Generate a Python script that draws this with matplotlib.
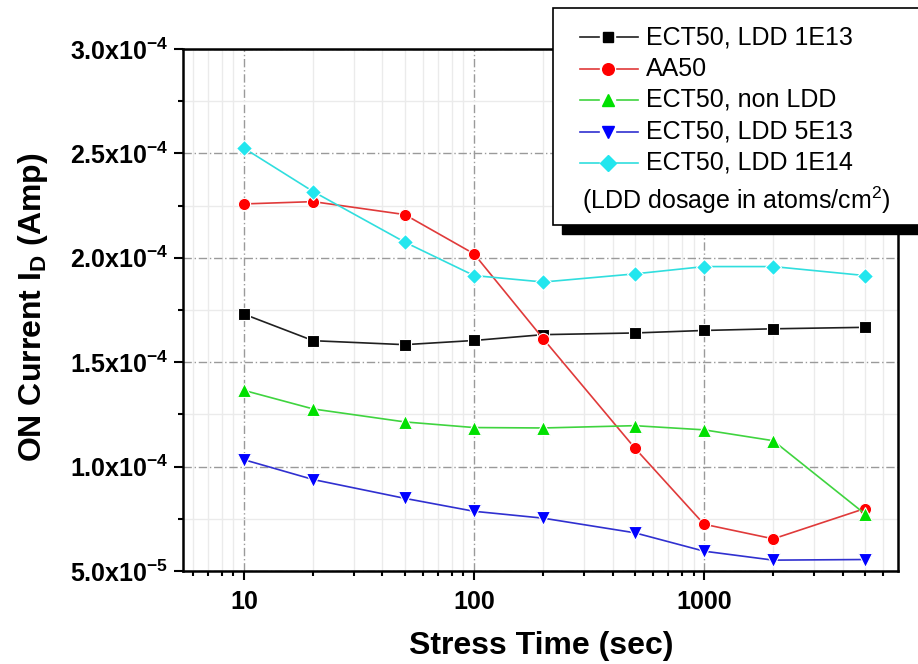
import matplotlib
matplotlib.use('Agg')
import matplotlib.pyplot as plt
from matplotlib.lines import Line2D
from matplotlib.patches import Rectangle
from matplotlib.ticker import FuncFormatter, MultipleLocator, LogLocator, FixedLocator

plt.rcParams['font.family'] = 'Liberation Sans'
plt.rcParams['mathtext.fontset'] = 'custom'
plt.rcParams['mathtext.rm'] = 'Liberation Sans'
plt.rcParams['mathtext.bf'] = 'Liberation Sans:bold'
plt.rcParams['mathtext.default'] = 'bf'

# stress times (sec) and ON current in units of 1e-4 A
stress_time = [10, 20, 50, 100, 200, 500, 1000, 2000, 5000]
ldd_1e13 = [1.73, 1.603, 1.584, 1.604, 1.632, 1.640, 1.652, 1.660, 1.667]
aa50 = [2.258, 2.269, 2.207, 2.019, 1.612, 1.089, 0.724, 0.654, 0.799]
non_ldd = [1.365, 1.276, 1.214, 1.187, 1.185, 1.196, 1.176, 1.124, 0.774]
ldd_5e13 = [1.033, 0.938, 0.848, 0.786, 0.753, 0.683, 0.595, 0.552, 0.555]
ldd_1e14 = [2.525, 2.317, 2.075, 1.915, 1.884, 1.923, 1.958, 1.958, 1.915]

labels = ['ECT50, LDD 1E13', 'AA50', 'ECT50, non LDD', 'ECT50, LDD 5E13', 'ECT50, LDD 1E14']
series = [ldd_1e13, aa50, non_ldd, ldd_5e13, ldd_1e14]
line_colors = ['#202020', '#e03a3a', '#3fd43f', '#3030d0', '#30dede']
mk_colors = ['#000000', '#ff0000', '#00e000', '#0000ff', '#22e6ee']
markers = ['s', 'o', '^', 'v', 'D']
msizes = [8, 8.8, 9.8, 9.8, 8.2]

W, H = 918, 664
fig = plt.figure(figsize=(W / 100, H / 100), dpi=100)
ax = fig.add_axes([183 / W, 1 - 571 / H, (898 - 183) / W, (571 - 49) / H])

for vals, c, mc, m, ms in zip(series, line_colors, mk_colors, markers, msizes):
    ax.plot(stress_time, [v * 1e-4 for v in vals], '-', color=c, linewidth=1.2,
            marker=m, markersize=ms, markerfacecolor=mc, markeredgecolor='white',
            markeredgewidth=0.8, zorder=3)

ax.set_xscale('log')
ax.set_xlim(5.43, 6970)
ax.set_ylim(5e-5, 3e-4)

ax.yaxis.set_major_locator(MultipleLocator(5e-5))
ax.yaxis.set_minor_locator(MultipleLocator(2.5e-5))
ax.xaxis.set_major_locator(FixedLocator([10, 100, 1000]))
ax.xaxis.set_minor_locator(LogLocator(base=10, subs=range(2, 10)))


def ytick_fmt(v, pos):
    e = int(f'{v:.1e}'.split('e')[1])
    m = v / 10 ** e
    return r'$%.1fx10^{%d}$' % (m, e)


ax.yaxis.set_major_formatter(FuncFormatter(ytick_fmt))
ax.xaxis.set_major_formatter(FuncFormatter(lambda v, p: '%d' % v))
ax.xaxis.set_minor_formatter(FuncFormatter(lambda v, p: ''))

ax.tick_params(which='major', direction='out', length=6.5, width=1.5, labelsize=18, pad=4)
ax.tick_params(which='minor', direction='out', length=3.5, width=1.5)
ax.tick_params(axis='x', which='major', pad=7)
for lab in ax.get_xticklabels() + ax.get_yticklabels():
    lab.set_fontweight('bold')

for s in ax.spines.values():
    s.set_linewidth(1.8)

ax.grid(which='minor', color='#ebebeb', linewidth=1.0, linestyle='-', zorder=0)
ax.grid(which='major', color='#9a9a9a', linewidth=1.0, linestyle=(0, (6, 2, 1, 2)), zorder=1)
ax.set_axisbelow(True)

fig.text(541 / W, 1 - 646 / H, 'Stress Time (sec)', fontsize=23, fontweight='bold',
         ha='center', va='center')
fig.text(33 / W, 1 - 307 / H, r'ON Current I$_{D}$ (Amp)', fontsize=23, fontweight='bold',
         rotation=90, ha='center', va='center')

# legend box with a solid black drop shadow, running off the right edge
fig.add_artist(Rectangle((562 / W, 1 - 234 / H), 400 / W, (234 - 17) / H,
                         transform=fig.transFigure, facecolor='black', edgecolor='black',
                         zorder=5))
fig.add_artist(Rectangle((553 / W, 1 - 225 / H), 400 / W, (225 - 8) / H,
                         transform=fig.transFigure, facecolor='white', edgecolor='black',
                         linewidth=1.2, zorder=6))

rows = [37, 69, 100, 132, 163]
for yy, lab, c, mc, m, ms in zip(rows, labels, line_colors, mk_colors, markers, msizes):
    y = 1 - yy / H
    fig.add_artist(Line2D([580 / W, 599 / W], [y, y], transform=fig.transFigure,
                          color=c, linewidth=1.2, zorder=7))
    fig.add_artist(Line2D([617 / W, 638 / W], [y, y], transform=fig.transFigure,
                          color=c, linewidth=1.2, zorder=7))
    fig.add_artist(Line2D([608 / W], [y], transform=fig.transFigure, marker=m,
                          markersize=ms * 0.95, markerfacecolor=mc, markeredgecolor=mc,
                          linestyle='none', zorder=7))
    fig.text(646 / W, y, lab, fontsize=18, ha='left', va='center', zorder=8)

fig.text(582 / W, 1 - 200 / H, r'(LDD dosage in atoms/cm$^{\mathrm{2}}$)', fontsize=18,
         ha='left', va='center', zorder=8)

fig.savefig('out.png', dpi=100, facecolor='white')
